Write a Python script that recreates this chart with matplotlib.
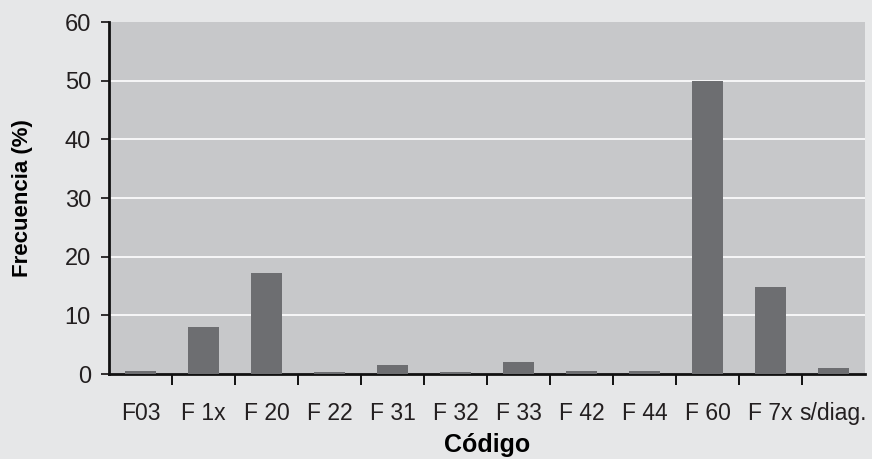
import numpy as np
import matplotlib.pyplot as plt

# Frecuencia por código diagnóstico
codigos = ["F03", "F 1x", "F 20", "F 22", "F 31", "F 32", "F 33",
           "F 42", "F 44", "F 60", "F 7x", "s/diag."]
frecuencia = [0.6, 8.0, 17.2, 0.4, 1.5, 0.4, 2.0, 0.6, 0.5, 50.0, 14.8, 1.0]

plt.rcParams['font.family'] = ['Liberation Sans', 'DejaVu Sans']

fig = plt.figure(figsize=(8.72, 4.59), dpi=100, facecolor="#e6e7e8")
ax = fig.add_axes([0.125, 0.185, 0.867, 0.767])
ax.set_facecolor("#c7c8ca")

x = np.arange(len(codigos))
ax.bar(x, frecuencia, width=0.5, color="#6d6e71", zorder=3)

ax.set_xlim(-0.5, len(codigos) - 0.5)
ax.set_ylim(0, 60)
ax.set_yticks(np.arange(0, 61, 10))
for y in range(10, 60, 10):
    ax.axhline(y, color="white", lw=1.2, zorder=1)

ax.set_xticks(x)
ax.set_xticklabels(codigos, fontsize=16.5, color="#231f20")
ax.set_xticks(np.arange(0.5, len(codigos) - 0.5, 1), minor=True)
ax.tick_params(axis="x", which="major", length=0, pad=20)
ax.tick_params(axis="x", which="minor", length=8, width=1.3, direction="out")
ax.tick_params(axis="y", length=6, width=1.3, labelsize=17, colors="#231f20", pad=7)

for s in ["top", "right"]:
    ax.spines[s].set_visible(False)
for s in ["left", "bottom"]:
    ax.spines[s].set_linewidth(2)
    ax.spines[s].set_color("#111111")

ax.set_xlabel("Código", fontsize=18, fontweight="bold", va="baseline")
ax.xaxis.set_label_coords(0.5, -0.222)
ax.set_ylabel("Frecuencia (%)", fontsize=16, fontweight="bold")
ax.yaxis.set_label_coords(-0.10, 0.5)

fig.savefig("out.png", dpi=100, facecolor=fig.get_facecolor())
